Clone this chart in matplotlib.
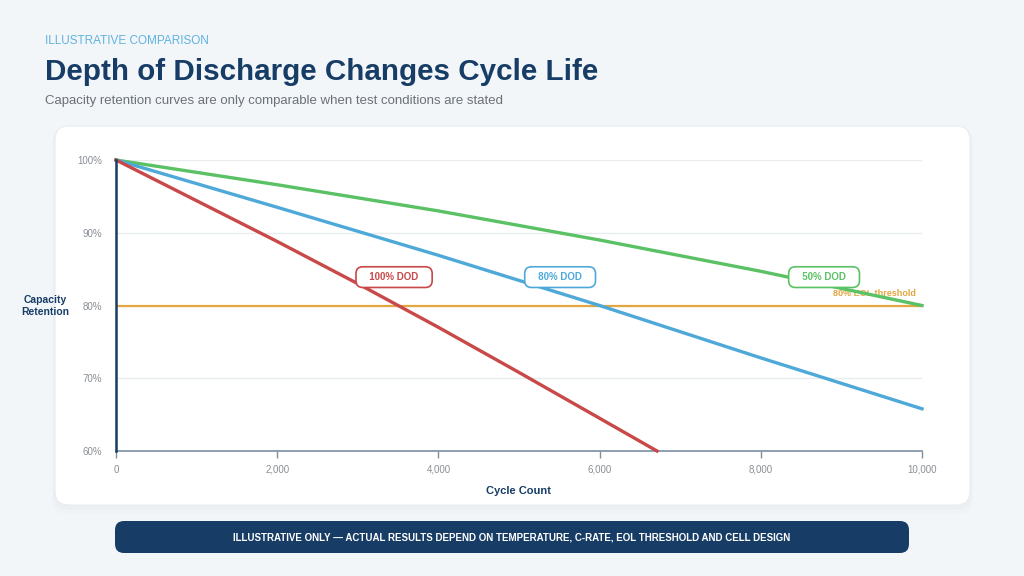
import numpy as np
import matplotlib.pyplot as plt
from matplotlib.patches import FancyBboxPatch

# Données (cycles -> rétention en %)
cycles_100 = [0, 1000, 2000, 3000, 4000, 5000, 6000, 6712]
ret_100 = [100, 94.4, 88.8, 83.0, 77.0, 70.8, 64.5, 60.0]

cycles_80 = [0, 2000, 4000, 6000, 8000, 10000]
ret_80 = [100, 93.5, 86.9, 80.0, 72.8, 65.8]

cycles_50 = [0, 2000, 4000, 6000, 8000, 10000]
ret_50 = [100, 96.6, 93.0, 89.0, 84.7, 80.0]

eol_threshold = 80
x_ticks = [0, 2000, 4000, 6000, 8000, 10000]
y_ticks = [60, 70, 80, 90, 100]

NAVY = "#173d66"
RED = "#c94848"
BLUE = "#4ea9d9"
GREEN = "#5bc165"
ORANGE = "#e3a640"
GREY = "#8a8f96"

plt.rcParams['font.family'] = ['Liberation Sans', 'DejaVu Sans']

fig = plt.figure(figsize=(10.24, 5.76), dpi=100)
fig.patch.set_facecolor("#f3f6f9")

# fond en coordonnées pixels
bg = fig.add_axes([0, 0, 1, 1], zorder=0)
bg.set_xlim(0, 1024)
bg.set_ylim(576, 0)
bg.axis("off")

# ombre + carte blanche
for off, a in [(6, 0.025), (3, 0.035)]:
    bg.add_patch(FancyBboxPatch((55 - off / 2, 126 + off / 2), 915 + off, 379 + off,
                                boxstyle="round,pad=0,rounding_size=14",
                                fc="#7a8ca0", ec="none", alpha=a))
bg.add_patch(FancyBboxPatch((55, 126), 915, 379, boxstyle="round,pad=0,rounding_size=14",
                            fc="white", ec="#e8edf2", lw=0.8))

# bandeau du bas
bg.add_patch(FancyBboxPatch((115, 521), 794, 32, boxstyle="round,pad=0,rounding_size=9",
                            fc=NAVY, ec="none"))
bg.text(512, 537.5, "ILLUSTRATIVE ONLY — ACTUAL RESULTS DEPEND ON TEMPERATURE, C-RATE, EOL THRESHOLD AND CELL DESIGN",
        color="white", fontsize=7, fontweight="bold", ha="center", va="center")

# titres
bg.text(45, 41, "ILLUSTRATIVE COMPARISON", color="#5fb2e0", fontsize=8.5, ha="left", va="center")
bg.text(45, 72, "Depth of Discharge Changes Cycle Life", color=NAVY, fontsize=21.3,
        fontweight="bold", ha="left", va="center")
bg.text(45, 101, "Capacity retention curves are only comparable when test conditions are stated",
        color="#6b7178", fontsize=9.5, ha="left", va="center")
bg.text(45, 306, "Capacity\nRetention", color=NAVY, fontsize=7.5, fontweight="bold",
        ha="center", va="center", linespacing=1.3)

# graphique principal
ax = fig.add_axes([116 / 1024, 1 - 451 / 576, 806 / 1024, 291 / 576], zorder=2)
ax.set_facecolor("none")

ax.plot(cycles_50, ret_50, color=GREEN, lw=2.4, clip_on=False, zorder=4)
ax.plot(cycles_80, ret_80, color=BLUE, lw=2.4, clip_on=False, zorder=4)
ax.plot(cycles_100, ret_100, color=RED, lw=2.4, clip_on=False, zorder=4)
ax.axhline(eol_threshold, color=ORANGE, lw=1.6, zorder=3)

ax.set_xlim(0, 10000)
ax.set_ylim(60, 100)
ax.set_xticks(x_ticks)
ax.set_xticklabels([f"{t:,}" for t in x_ticks])
ax.set_yticks(y_ticks)
ax.set_yticklabels([f"{t}%" for t in y_ticks])
ax.grid(axis="y", color="#e9ecef", lw=1)
ax.set_axisbelow(True)

for s in ["top", "right"]:
    ax.spines[s].set_visible(False)
ax.spines["left"].set_color(NAVY)
ax.spines["left"].set_linewidth(1.8)
ax.spines["left"].set_zorder(5)
ax.spines["bottom"].set_color("#7d8fa3")
ax.spines["bottom"].set_linewidth(1.2)
ax.tick_params(axis="x", colors="#7d8fa3", labelcolor=GREY, labelsize=7, length=5, width=1, pad=5)
ax.tick_params(axis="y", length=0, labelcolor=GREY, labelsize=7, pad=10)

ax.set_xlabel("Cycle Count", color=NAVY, fontsize=8, fontweight="bold", labelpad=8)

# étiquettes des courbes
labels = [("100% DOD", 3450, RED), ("80% DOD", 5510, BLUE), ("50% DOD", 8785, GREEN)]
for txt, xpos, col in labels:
    ax.text(xpos, 83.9, "   " + txt + "   ", color=col, fontsize=7, fontweight="bold",
            ha="center", va="center", zorder=6,
            bbox=dict(boxstyle="round,pad=0.55,rounding_size=0.7", fc="white", ec=col, lw=1.2))

ax.text(9930, 81.6, "80% EOL threshold", color=ORANGE, fontsize=6.5, fontweight="bold",
        ha="right", va="center", zorder=3.5)

fig.savefig("out.png", dpi=100, facecolor=fig.get_facecolor())
